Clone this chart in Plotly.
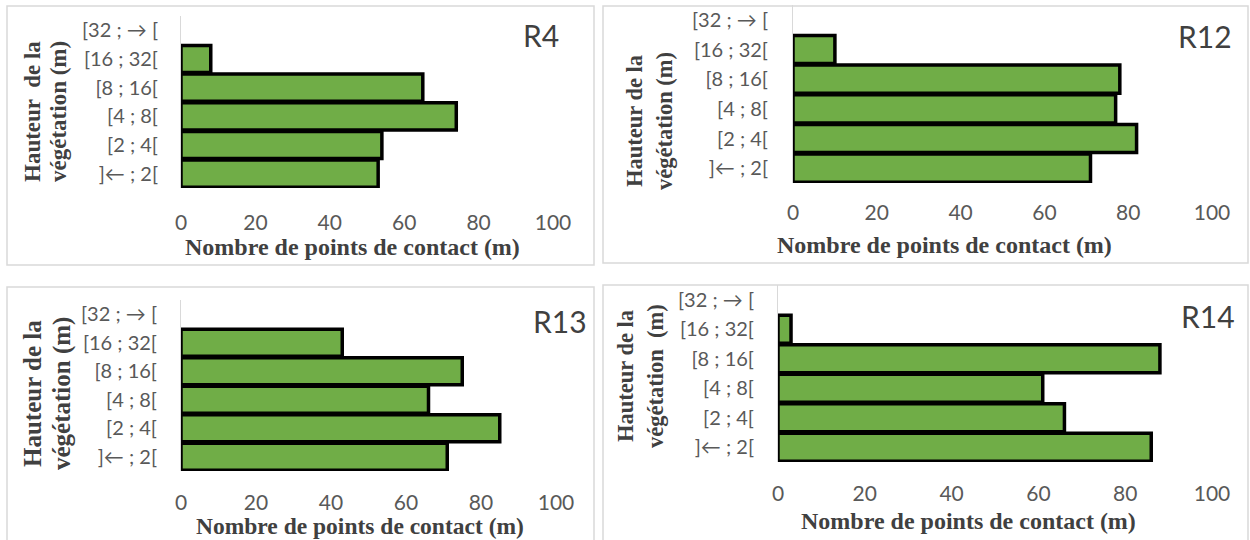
import plotly.graph_objects as go

# ---------------- data ----------------
categories = ["]← ; 2[", "[2 ; 4[", "[4 ; 8[", "[8 ; 16[", "[16 ; 32[", "[32 ; → ["]
r4_values = [53, 54, 74, 65, 8, 0]
r12_values = [71, 82, 77, 78, 10, 0]
r13_values = [71, 85, 66, 75, 43, 0]
r14_values = [86, 66, 61, 88, 3, 0]
panel_names = ["R4", "R12", "R13", "R14"]
x_tickvals = [0, 20, 40, 60, 80, 100]
x_title = "Nombre de points de contact (m)"
y_title_line1 = ["Hauteur  de la", "Hauteur de la", "Hauteur de la", "Hauteur de la"]
y_title_line2 = ["végétation (m)", "végétation (m)", "végétation (m)", "végétation  (m)"]

series = [r4_values, r12_values, r13_values, r14_values]

W, H = 1250, 540


def px(x):
    return x / W


def py(y):
    return 1 - y / H


# layout in pixels for each panel
panels = [
    dict(plot=(181, 553, 16, 188), border=(7, 6, 594, 265), yt=(33, 59, 112, 23),
         xt=(352, 247, 24), rl=(541, 35), ystand=18, xstand=20),
    dict(plot=(793, 1212, 5, 183), border=(603, 6, 1248, 263), yt=(634, 664, 121, 22.5),
         xt=(944, 245, 24), rl=(1205, 36), ystand=20, xstand=15),
    dict(plot=(181, 556, 300, 471), border=(7, 287, 594, 545), yt=(32, 62, 394, 25),
         xt=(360, 526, 23.5), rl=(560, 321), ystand=19, xstand=17),
    dict(plot=(778, 1212, 285, 462), border=(603, 285, 1248, 545), yt=(625, 655, 376, 22.5),
         xt=(968, 521, 24), rl=(1208, 316), ystand=19, xstand=17),
]

fig = go.Figure()
shapes = []
annotations = []
tick_font = dict(family="Lato, 'Open Sans', sans-serif", size=21, color="#595959")
serif = "'Liberation Serif', 'Times New Roman', serif"

for i, (vals, p) in enumerate(zip(series, panels)):
    n = i + 1
    xa = "x" if n == 1 else f"x{n}"
    ya = "y" if n == 1 else f"y{n}"
    fig.add_trace(go.Bar(
        x=vals, y=categories, orientation="h",
        xaxis=xa, yaxis=ya,
        marker=dict(color="#70AD47",
                    line=dict(color="black", width=[3.5 if v > 0 else 0 for v in vals])),
        showlegend=False, hoverinfo="x+y",
    ))
    x0, x1, y0, y1 = p["plot"]
    xkey = "xaxis" if n == 1 else f"xaxis{n}"
    ykey = "yaxis" if n == 1 else f"yaxis{n}"
    fig.layout[xkey] = dict(
        domain=[px(x0), px(x1)], anchor=ya, range=[0, 100], automargin=False,
        tickvals=x_tickvals, showgrid=False, zeroline=False, showline=False,
        ticks="", tickfont=tick_font, ticklabelstandoff=p["xstand"], fixedrange=True,
    )
    fig.layout[ykey] = dict(
        domain=[py(y1), py(y0)], anchor=xa, type="category", automargin=False,
        categoryorder="array", categoryarray=categories, range=[-0.5, 5.5],
        showgrid=False, zeroline=False, showline=True, linecolor="#d9d9d9", linewidth=1,
        ticks="", tickfont=dict(family="Lato, 'Open Sans', sans-serif", size=20, color="#595959"),
        ticklabelstandoff=p["ystand"], fixedrange=True,
    )
    bx0, by0, bx1, by1 = p["border"]
    shapes.append(dict(type="rect", xref="paper", yref="paper",
                       x0=px(bx0), x1=px(bx1), y0=py(by1), y1=py(by0),
                       line=dict(color="#d9d9d9", width=1.5), fillcolor="rgba(0,0,0,0)",
                       layer="below"))
    # y-axis title (two rotated lines)
    lx1, lx2, lyc, lsize = p["yt"]
    for lx, txt in ((lx1, y_title_line1[i]), (lx2, y_title_line2[i])):
        annotations.append(dict(
            x=px(lx), y=py(lyc), xref="paper", yref="paper", text=f"<b>{txt}</b>",
            textangle=-90, showarrow=False, xanchor="center", yanchor="middle",
            font=dict(family=serif, size=lsize, color="#404040"),
        ))
    # x-axis title
    tx, ty, tsize = p["xt"]
    annotations.append(dict(
        x=px(tx), y=py(ty), xref="paper", yref="paper", text=f"<b>{x_title}</b>",
        showarrow=False, xanchor="center", yanchor="middle",
        font=dict(family=serif, size=tsize, color="#404040"),
    ))
    # panel name
    rx, ry = p["rl"]
    annotations.append(dict(
        x=px(rx), y=py(ry), xref="paper", yref="paper", text=panel_names[i],
        showarrow=False, xanchor="center", yanchor="middle",
        font=dict(family="Lato, 'Open Sans', sans-serif", size=30, color="#404040"),
    ))

fig.update_layout(
    template="none",
    width=W, height=H, margin=dict(l=0, r=0, t=0, b=0, autoexpand=False),
    paper_bgcolor="white", plot_bgcolor="white",
    bargap=0.05, shapes=shapes, annotations=annotations,
)

fig.write_html(
    "out.html",
    config={"displayModeBar": False},
    post_script="document.body.style.margin='0';document.body.style.overflow='hidden';",
)
